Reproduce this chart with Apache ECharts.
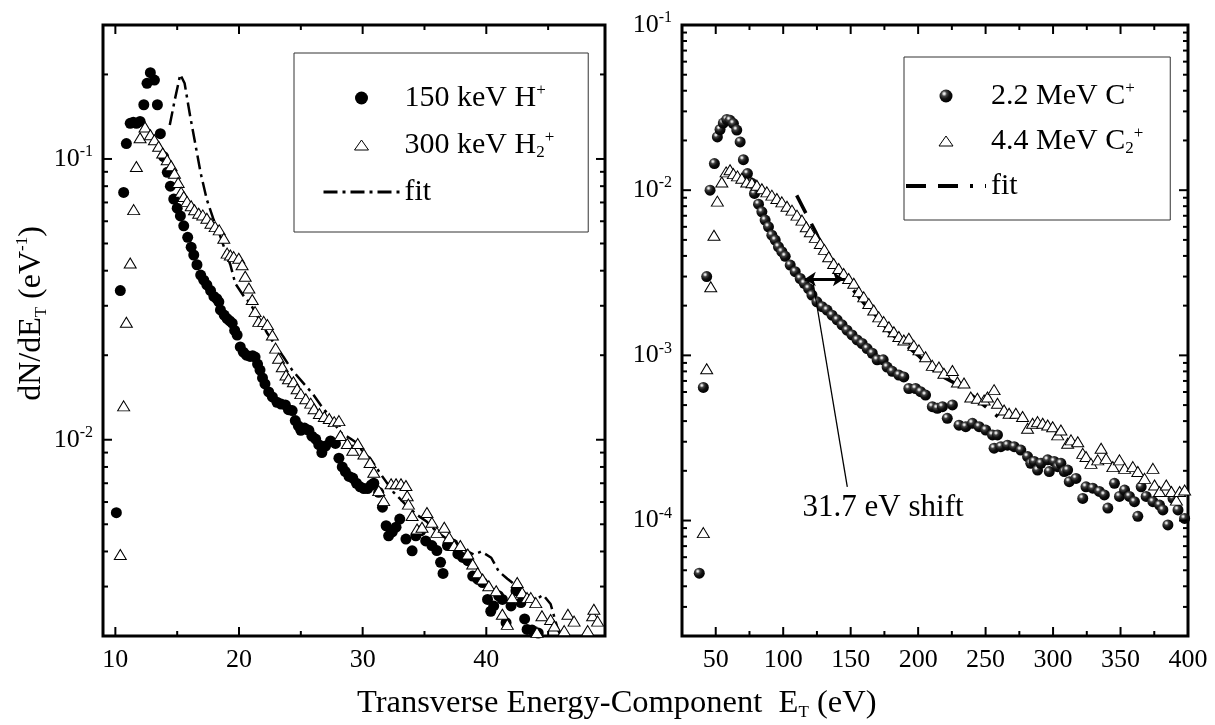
<!DOCTYPE html>
<html><head><meta charset="utf-8">
<script src="https://cdn.jsdelivr.net/npm/echarts@6.0.0/dist/echarts.min.js"></script>
<style>html,body{margin:0;padding:0;background:#fff}#c{width:1215px;height:725px}</style>
</head><body><div id="c"></div>
<script>
const FONT = "'Liberation Serif','DejaVu Serif',serif";

// ---------- left panel data (E_T in eV, dN/dE_T in 1/eV) ----------
const h150 = [[10.08,0.0055],[10.4,0.034],[10.67,0.076],[10.89,0.1135],[11.2,0.134],[11.45,0.135],[11.7,0.134],[12.0,0.136],[12.3,0.156],[12.56,0.186],[12.83,0.203],[13.16,0.191],[13.4,0.156],[13.64,0.123],[13.9,0.102],[14.2,0.0896],[14.45,0.080],[14.72,0.072],[15.0,0.0668],[15.26,0.0627],[15.53,0.0578],[15.85,0.0526],[16.13,0.0485],[16.34,0.0455],[16.6,0.042],[16.9,0.0386],[17.15,0.037],[17.4,0.0356],[17.7,0.034],[17.97,0.0324],[18.2,0.0318],[18.37,0.031],[18.5,0.029],[18.8,0.0278],[19.04,0.027],[19.25,0.0265],[19.45,0.026],[19.65,0.0245],[19.85,0.0236],[20.1,0.0214],[20.35,0.0205],[20.6,0.0200],[20.9,0.0198],[21.1,0.0199],[21.3,0.0197],[21.5,0.0186],[21.7,0.0177],[21.9,0.0166],[22.1,0.0158],[22.4,0.0148],[22.7,0.0142],[23.07,0.0136],[23.4,0.0134],[23.75,0.0133],[24.0,0.0128],[24.3,0.0127],[24.55,0.0117],[24.8,0.0112],[25.0,0.0108],[25.3,0.0110],[25.65,0.0108],[25.9,0.0103],[26.2,0.01006],[26.45,0.0096],[26.7,0.0090],[27.0,0.0095],[27.4,0.0099],[27.8,0.0097],[28.08,0.0086],[28.35,0.0080],[28.6,0.0077],[28.9,0.0074],[29.2,0.0073],[29.5,0.0070],[29.8,0.0068],[30.1,0.0067],[30.4,0.0067],[30.7,0.0069],[30.9,0.0070],[31.3,0.0065],[31.6,0.00575],[31.9,0.00494],[32.1,0.00455],[32.4,0.0047],[32.7,0.00488],[33.0,0.00522],[33.5,0.00443],[34.0,0.00402],[34.3,0.00455],[34.7,0.00474],[35.1,0.00436],[35.6,0.0042],[36.0,0.00403],[36.3,0.00366],[36.5,0.00334],[36.86,0.0042],[37.3,0.00425],[37.7,0.00392],[38.1,0.00381],[38.5,0.00371],[38.9,0.00327],[39.3,0.00319],[39.7,0.0031],[40.1,0.0027],[40.36,0.00245],[40.6,0.00256],[41.0,0.00278],[41.3,0.0027],[41.6,0.00223],[42.0,0.00256],[42.4,0.0029],[42.8,0.00263],[43.1,0.0023],[43.3,0.00211],[43.7,0.0021],[44.2,0.00205]];
const h2_300 = [[10.4,0.0039],[10.67,0.0132],[10.89,0.0262],[11.2,0.0426],[11.48,0.066],[11.7,0.094],[12.0,0.119],[12.4,0.130],[12.83,0.122],[13.16,0.117],[13.5,0.111],[13.83,0.105],[14.19,0.0994],[14.51,0.0946],[14.78,0.089],[15.08,0.0825],[15.32,0.0762],[15.53,0.0735],[15.8,0.0706],[16.13,0.0681],[16.4,0.0659],[16.74,0.0641],[17.07,0.0632],[17.4,0.0615],[17.73,0.059],[18.07,0.0574],[18.4,0.0559],[18.77,0.0522],[19.04,0.0462],[19.3,0.0455],[19.57,0.0449],[19.98,0.0443],[20.25,0.042],[20.5,0.0382],[20.8,0.0347],[21.07,0.0316],[21.3,0.0286],[21.6,0.0264],[22.0,0.0264],[22.3,0.0257],[22.7,0.0236],[22.96,0.0212],[23.2,0.0195],[23.5,0.0182],[23.8,0.017],[24.0,0.0165],[24.4,0.0161],[24.7,0.0152],[25.0,0.0146],[25.4,0.0140],[25.8,0.0135],[26.07,0.0129],[26.5,0.0124],[26.9,0.0121],[27.3,0.0119],[27.7,0.0116],[28.08,0.0117],[28.2,0.01035],[28.76,0.0097],[29.2,0.00917],[29.6,0.0097],[30.1,0.0089],[30.6,0.0083],[30.9,0.00766],[31.3,0.00659],[31.7,0.00607],[32.3,0.00697],[32.7,0.00697],[33.1,0.00697],[33.5,0.00687],[33.6,0.00632],[33.7,0.0059],[34.0,0.00537],[34.4,0.00481],[34.8,0.00488],[35.2,0.00551],[35.6,0.00508],[36.0,0.00468],[36.6,0.00488],[37.0,0.00449],[37.4,0.0042],[37.9,0.0042],[38.5,0.00392],[38.9,0.00361],[39.3,0.00336],[39.7,0.00319],[40.2,0.00302],[40.8,0.0029],[41.3,0.00239],[41.7,0.0022],[42.1,0.00274],[42.5,0.0031],[42.9,0.00286],[43.3,0.00274],[43.6,0.00274],[44.0,0.00263],[44.1,0.00206],[44.5,0.00236],[45.2,0.00229],[45.5,0.00217],[46.3,0.00209],[46.6,0.00239],[47.1,0.00226],[48.2,0.00209],[48.6,0.00236],[48.7,0.00249],[49.0,0.00226]];
const fitLeft = [[14.4,0.132],[14.8,0.162],[15.25,0.2],[15.6,0.186],[16.05,0.142],[16.5,0.111],[16.9,0.089],[17.4,0.0716],[17.95,0.0607],[18.4,0.0544],[18.9,0.047],[19.3,0.042],[19.7,0.036],[20.4,0.0324],[20.9,0.0306],[21.6,0.027],[22.3,0.0239],[23.0,0.0215],[23.6,0.0197],[24.3,0.0177],[25.1,0.0161],[26.0,0.0145],[26.6,0.0133],[27.4,0.012],[28.2,0.0106],[29.0,0.0101],[29.6,0.0097],[30.1,0.0089],[30.6,0.0086],[31.5,0.0075],[32.5,0.0065],[33.6,0.0058],[34.4,0.0054],[35.2,0.0051],[36.0,0.0047],[36.9,0.0044],[38.0,0.0041],[39.0,0.0039],[39.6,0.0040],[40.4,0.0038],[41.0,0.0034],[41.7,0.0032],[42.5,0.0030],[43.3,0.0028],[44.0,0.0027],[44.6,0.0028],[45.2,0.0026],[45.8,0.0021],[46.3,0.0019]];

// ---------- right panel data ----------
const c22 = [[37.8,4.8e-5],[40.8,6.4e-4],[43.3,3.0e-3],[45.8,0.010],[49,0.0145],[51.2,0.021],[53.2,0.0233],[55.6,0.0255],[58.2,0.0268],[60.6,0.0265],[63.1,0.0253],[65.6,0.0231],[68.1,0.0196],[70.5,0.0153],[73.5,0.0126],[76.8,0.011],[78.7,0.00955],[81.7,0.00823],[84.2,0.0074],[86.6,0.00659],[89.1,0.0060],[91.6,0.00534],[94.1,0.00499],[96.5,0.00454],[99,0.00424],[101.5,0.00398],[105.2,0.00352],[108.9,0.00321],[112.6,0.00292],[115.6,0.00273],[118.8,0.00254],[121.3,0.00232],[125,0.00211],[128.8,0.00197],[132.5,0.00188],[136.2,0.00175],[140,0.00164],[143.6,0.00153],[147.3,0.00142],[151,0.00133],[154.8,0.00124],[158.5,0.00118],[162.2,0.0011],[166,0.00103],[169.6,0.00094],[174.1,0.00094],[177,0.00085],[180.8,0.0008],[185.7,0.00076],[189.4,0.00074],[193.1,0.00063],[198.1,0.00063],[201.8,0.000603],[205.5,0.000575],[210.5,0.000489],[214.2,0.000478],[218,0.000489],[221.6,0.000416],[225.4,0.000501],[230.3,0.000378],[235.3,0.00037],[240.2,0.000388],[245.2,0.00037],[250.1,0.000353],[255.1,0.00033],[258.8,0.00033],[256.3,0.000274],[261.3,0.00028],[266.2,0.000286],[271.2,0.00028],[276.1,0.000267],[281.1,0.000244],[283.5,0.000222],[286,0.000228],[288.5,0.000202],[291,0.000222],[296,0.000233],[297.2,0.000198],[300.8,0.000228],[303.4,0.000212],[305.8,0.000222],[308.3,0.000198],[310.8,0.000202],[312,0.000172],[317,0.00018],[322,0.000136],[324.4,0.00016],[329.4,0.000157],[334.3,0.00015],[338,0.000143],[340.6,0.000119],[345.5,0.000168],[349.2,0.00014],[353,0.000153],[356.6,0.00014],[360.3,0.00013],[362.8,0.000106],[365.3,0.00016],[369,0.00014],[374,0.00013],[378.9,0.000124],[381.4,0.000116],[385.1,0.000094],[388.9,0.000136],[392.6,0.000116],[397.5,0.000103]];
const c2_44 = [[40.8,8.45e-5],[43.3,8.3e-4],[46.3,0.0026],[48.7,0.00534],[51.2,0.00858],[54.5,0.0112],[57.7,0.0129],[60.6,0.0133],[63.1,0.0126],[66.1,0.0122],[69.3,0.0118],[73,0.0112],[76.8,0.0111],[80.5,0.0107],[84.2,0.0102],[87.9,0.00977],[91.6,0.00933],[95.3,0.00891],[99,0.0085],[102.8,0.008],[106.5,0.00757],[110.2,0.00706],[113.9,0.00659],[117.1,0.006],[120.1,0.0056],[123.8,0.00518],[127.5,0.00476],[130.5,0.00438],[133.7,0.00395],[137.4,0.0036],[141.1,0.00336],[144.8,0.00313],[148.5,0.00292],[152.3,0.00273],[156,0.00243],[159.7,0.00226],[163.4,0.00206],[167.1,0.00188],[170.8,0.00171],[174.5,0.0016],[178.3,0.00149],[182,0.00139],[185.7,0.0013],[189.4,0.00124],[193.1,0.00127],[196.8,0.00115],[200.6,0.00108],[205.5,0.00098],[210.5,0.00087],[215.4,0.00085],[219.1,0.00078],[225.4,0.00081],[229.1,0.00069],[234,0.00068],[239,0.00056],[243.9,0.00055],[248.9,0.000537],[251.4,0.00056],[256.3,0.00062],[258.8,0.000513],[263.7,0.000467],[267.4,0.000446],[272.4,0.000446],[277.4,0.000426],[281.1,0.000362],[284.8,0.000388],[288.5,0.000397],[292.3,0.000388],[296,0.000379],[299.7,0.00037],[303.4,0.00033],[305.8,0.000353],[310.8,0.000294],[313.3,0.000308],[318.3,0.0003],[322,0.000255],[324.4,0.000244],[328.1,0.000222],[333.1,0.000233],[335.6,0.000274],[339.3,0.000238],[344.3,0.000212],[349.2,0.000233],[353,0.000207],[359.1,0.000212],[362.8,0.000198],[367.8,0.00018],[374,0.000207],[375.2,0.000164],[378.9,0.00015],[383.9,0.000164],[387.7,0.00015],[391.4,0.000133],[393.8,0.00015],[397.5,0.000153]];
const fitRight = [[110,0.0093],[117,0.0072],[124,0.0056],[130,0.0044],[140,0.0033],[150,0.0026],[160,0.00206],[170,0.0017],[180,0.00135],[190,0.00117],[200,0.001],[210,0.00083],[220,0.00073],[230,0.00066],[240,0.00057],[250,0.00049],[260,0.00042]];

// annotation (data coordinates of right panel)
const shiftArrow = [[116,0.0029],[145,0.0029]];
const shiftLeader = [[122,0.0028],[147.5,1.6e-4]];
const shiftLabelAt = [114,1.2e-4];
const shiftText = '31.7 eV shift';

// ---------- axis ranges and tick positions ----------
const leftX = [9, 49.6], leftY = [0.002, 0.3];
const rightX = [25, 400], rightY = [2e-5, 0.1];
const leftXMajor = [10,20,30,40], leftXMinor = [15,25,35,45];
const leftYMajor = [0.01,0.1];
const leftYMinor = [0.003,0.004,0.005,0.006,0.007,0.008,0.009,0.02,0.03,0.04,0.05,0.06,0.07,0.08,0.09,0.2];
const rightXMajor = [50,100,150,200,250,300,350];
const rightXMinor = [75,125,175,225,275,325,375];
const rightYMajor = [1e-4,1e-3,1e-2];
const rightYMinor = [3e-5,4e-5,5e-5,6e-5,7e-5,8e-5,9e-5,2e-4,3e-4,4e-4,5e-4,6e-4,7e-4,8e-4,9e-4,2e-3,3e-3,4e-3,5e-3,6e-3,7e-3,8e-3,9e-3,2e-2,3e-2,4e-2,5e-2,6e-2,7e-2,8e-2,9e-2];

const legendLabels = {
  'h150': '150 keV H{sup|+}',
  'h2_300': '300 keV H{sub|2}{sup|+}',
  'fitL': 'fit',
  'c22': '2.2 MeV C{sup|+}',
  'c2_44': '4.4 MeV C{sub|2}{sup|+}',
  'fitR': 'fit'
};

const supsub = {
  sup: {fontSize: 17, verticalAlign: 'top', lineHeight: 17, fontFamily: FONT, color: '#000'},
  sub: {fontSize: 17, verticalAlign: 'bottom', lineHeight: 17, fontFamily: FONT, color: '#000'}
};

function tickSeries(idx, xr, yr, xMaj, xMin, yMaj, yMin) {
  const d = [];
  xMaj.forEach(v => { d.push([v, yr[0], 0, 1]); d.push([v, yr[1], 1, 1]); });
  xMin.forEach(v => { d.push([v, yr[0], 0, 0]); d.push([v, yr[1], 1, 0]); });
  yMaj.forEach(v => { d.push([xr[0], v, 2, 1]); d.push([xr[1], v, 3, 1]); });
  yMin.forEach(v => { d.push([xr[0], v, 2, 0]); d.push([xr[1], v, 3, 0]); });
  return {
    type: 'custom', xAxisIndex: idx, yAxisIndex: idx, data: d, silent: true, z: 20, clip: false,
    renderItem: function (params, api) {
      const p = api.coord([api.value(0), api.value(1)]);
      const side = api.value(2), len = api.value(3) ? 9 : 5;
      let x2 = p[0], y2 = p[1];
      if (side === 0) y2 -= len; else if (side === 1) y2 += len;
      else if (side === 2) x2 += len; else x2 -= len;
      return {type: 'line', shape: {x1: p[0], y1: p[1], x2: x2, y2: y2},
              style: {stroke: '#000', lineWidth: 2}};
    }
  };
}

function powLabel(v) {
  const e = Math.round(Math.log10(v));
  if (Math.abs(Math.log10(v) - e) > 1e-6) return '';
  return '{b|10}{s|' + e + '}';
}
const powRich = {
  b: {fontSize: 26, fontFamily: FONT, color: '#000', lineHeight: 30},
  s: {fontSize: 16, fontFamily: FONT, color: '#000', lineHeight: 16, verticalAlign: 'top'}
};

function xAxisCfg(idx, r, step) {
  return {
    type: 'value', gridIndex: idx, min: r[0], max: r[1], minInterval: step, maxInterval: step,
    axisLine: {show: false}, axisTick: {show: false}, splitLine: {show: false},
    axisLabel: {
      show: true, margin: 11, fontFamily: FONT, fontSize: 26, color: '#000',
      formatter: function (v) { return (Math.abs(v / step - Math.round(v / step)) < 1e-9 && v >= r[0] && v <= r[1]) ? String(v) : ''; }
    }
  };
}
function yAxisCfg(idx, r) {
  return {
    type: 'log', logBase: 10, gridIndex: idx, min: r[0], max: r[1],
    axisLine: {show: false}, axisTick: {show: false}, splitLine: {show: false}, minorSplitLine: {show: false},
    axisLabel: {show: true, margin: 10, formatter: powLabel, rich: powRich}
  };
}

const tri = {color: '#fff', borderColor: '#000', borderWidth: 1, opacity: 1};
const ball = {
  opacity: 1,
  color: {type: 'radial', x: 0.36, y: 0.32, r: 0.68,
    colorStops: [{offset: 0, color: '#ffffff'}, {offset: 0.12, color: '#d0d0d0'}, {offset: 0.3, color: '#444'}, {offset: 0.6, color: '#111'}, {offset: 1, color: '#000'}]}
};
// legend triangle outline (the zero-length pieces only pad the box so the icon keeps its size)
const legendTri = 'path://M7,0L14,10L0,10Z M7,-1.5L7,-1.5 M7,11.5L7,11.5';

const yAx0 = yAxisCfg(0, leftY);
yAx0.name = 'dN/dE{sub|T} (eV{sup|-1})';
yAx0.nameLocation = 'middle';
yAx0.nameRotate = 90;
yAx0.nameGap = 50;
yAx0.nameTextStyle = {fontFamily: FONT, fontSize: 32, color: '#000', lineHeight: 36,
  padding: [0, 0, 0, 34], rich: supsub};

const legendText = {fontFamily: FONT, fontSize: 30, color: '#000', lineHeight: 32, rich: supsub};
const hideDot = {opacity: 0};

const option = {
  animation: false,
  backgroundColor: '#fff',
  title: {
    text: 'Transverse Energy-Component  E{sub|T} (eV)',
    left: 357, top: 685, padding: 0,
    textStyle: {fontFamily: FONT, fontSize: 32.5, fontWeight: 'normal', color: '#000', lineHeight: 36, rich: supsub}
  },
  grid: [
    {left: 103, top: 25, width: 502, height: 611, show: true, borderColor: '#000', borderWidth: 3, backgroundColor: 'transparent'},
    {left: 682, top: 25, width: 506, height: 611, show: true, borderColor: '#000', borderWidth: 3, backgroundColor: 'transparent'}
  ],
  xAxis: [xAxisCfg(0, leftX, 10), xAxisCfg(1, rightX, 50)],
  yAxis: [yAx0, yAxisCfg(1, rightY)],
  legend: [
    {
      data: [{name: 'h150', icon: 'circle'}, {name: 'h2_300', icon: legendTri, itemStyle: tri},
             {name: 'fitL', itemStyle: hideDot, lineStyle: {width: 3}}],
      orient: 'vertical', left: 294, top: 53, symbolKeepAspect: true,
      padding: [29, 34, 24, 28], itemGap: 15, itemWidth: 76, itemHeight: 13,
      borderColor: '#333', borderWidth: 1, backgroundColor: '#fff', selectedMode: false,
      formatter: n => legendLabels[n], textStyle: legendText
    },
    {
      data: [{name: 'c22', icon: 'circle'}, {name: 'c2_44', icon: legendTri, itemStyle: tri},
             {name: 'fitR', itemStyle: hideDot, lineStyle: {width: 4}}],
      orient: 'vertical', left: 904, top: 57, symbolKeepAspect: true,
      padding: [23, 27, 18, 0], itemGap: 13, itemWidth: 80, itemHeight: 13,
      borderColor: '#333', borderWidth: 1, backgroundColor: '#fff', selectedMode: false,
      formatter: n => legendLabels[n], textStyle: legendText
    }
  ],
  series: [
    {name: 'fitL', type: 'line', xAxisIndex: 0, yAxisIndex: 0, data: fitLeft, symbol: 'none', z: 2,
     lineStyle: {color: '#000', width: 2.5, type: [14, 5, 3, 5]}, itemStyle: {color: '#000'}},
    {name: 'h150', type: 'scatter', xAxisIndex: 0, yAxisIndex: 0, data: h150, symbol: 'circle', symbolSize: 11, z: 3,
     itemStyle: {color: '#000', opacity: 1}},
    {name: 'h2_300', type: 'scatter', xAxisIndex: 0, yAxisIndex: 0, data: h2_300, symbol: 'triangle', symbolSize: [12, 10], z: 4,
     itemStyle: tri},
    {name: 'fitR', type: 'line', xAxisIndex: 1, yAxisIndex: 1, data: fitRight, symbol: 'none', z: 2,
     lineStyle: {color: '#000', width: 3.5, type: [20, 12, 20, 12, 3, 12]}, itemStyle: {color: '#000'}},
    {name: 'c22', type: 'scatter', xAxisIndex: 1, yAxisIndex: 1, data: c22, symbol: 'circle', symbolSize: 11, z: 3,
     itemStyle: ball,
     markLine: {
       silent: true, animation: false, label: {show: false},
       data: [
         [{coord: shiftArrow[0], symbol: 'arrow', symbolSize: 11, lineStyle: {color: '#000', width: 3, type: 'solid'}},
          {coord: shiftArrow[1], symbol: 'arrow', symbolSize: 11}],
         [{coord: shiftLeader[0], symbol: 'none', lineStyle: {color: '#000', width: 1.3, type: 'solid'}},
          {coord: shiftLeader[1], symbol: 'none'}]
       ]
     },
     markPoint: {
       silent: true, animation: false, symbol: 'circle', symbolSize: 1, itemStyle: {color: 'rgba(0,0,0,0)'},
       data: [{coord: shiftLabelAt, label: {show: true, position: 'right', distance: 0, formatter: shiftText,
         fontFamily: FONT, fontSize: 31, color: '#000'}}]
     }},
    {name: 'c2_44', type: 'scatter', xAxisIndex: 1, yAxisIndex: 1, data: c2_44, symbol: 'triangle', symbolSize: [12, 10], z: 4,
     itemStyle: tri},
    tickSeries(0, leftX, leftY, leftXMajor, leftXMinor, leftYMajor, leftYMinor),
    tickSeries(1, rightX, rightY, rightXMajor, rightXMinor, rightYMajor, rightYMinor)
  ]
};

const chart = echarts.init(document.getElementById('c'));
chart.setOption(option);
</script></body></html>
